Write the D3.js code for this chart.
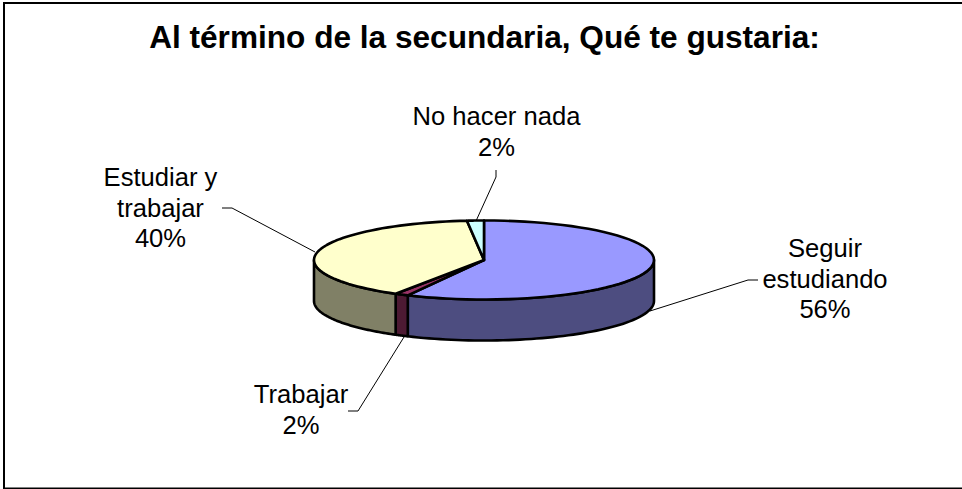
<!DOCTYPE html>
<html><head><meta charset="utf-8">
<script src="https://cdn.jsdelivr.net/npm/d3@7"></script>
<style>html,body{margin:0;padding:0;background:#fff;overflow:hidden}svg{display:block}text{font-family:"Liberation Sans",Arial,sans-serif;fill:#000}</style>
</head><body><svg id="c" width="962" height="489"></svg>
<script>
const title = "Al término de la secundaria, Qué te gustaria:";
const categories = ["Seguir estudiando", "Trabajar", "Estudiar y trabajar", "No hacer nada"];
const percentLabels = ["56%", "2%", "40%", "2%"];
const shares = [57.4, 1.3, 39.7, 1.6];
const topColors = ["#9999FF", "#993366", "#FFFFCC", "#CCFFFF"];
const sideColors = ["#4D4D80", "#4D1A33", "#808066", "#668080"];
const labelLines = [["Seguir", "estudiando"], ["Trabajar"], ["Estudiar y", "trabajar"], ["No hacer nada"]];
const labelAnchors = [[825, 257], [301, 403], [160.5, 186], [496.5, 125]];
const leaders = [
  [[650, 311], [748, 280], [758, 280]],
  [[404, 337], [358, 411], [348, 411]],
  [[315, 252], [232, 208], [222, 208]],
  [[476, 221], [496, 177], [496, 170]]
];
const svg = d3.select("#c");
svg.append("rect").attr("x", 4).attr("y", 3).attr("width", 1000).attr("height", 485.5)
  .attr("fill", "#fff").attr("stroke", "#000").attr("stroke-width", 2);
svg.append("text").attr("x", 484.5).attr("y", 48).attr("text-anchor", "middle")
  .attr("font-size", 31.6).attr("font-weight", "bold").text(title);

const cx = 484, cy = 260, rx = 170, ry = 39.5, depth = 41;
const pie = d3.pie().sort(null)(shares);
const px = a => cx + rx * Math.sin(a), py = a => cy - ry * Math.cos(a);
const line = d3.line();
const samples = (a0, a1) => d3.range(0, 61).map(i => a0 + (a1 - a0) * i / 60);
const g = svg.append("g").attr("stroke", "#000").attr("stroke-width", 2.6).attr("stroke-linejoin", "round");
pie.forEach((d, i) => {
  const a0 = Math.max(d.startAngle, Math.PI / 2), a1 = Math.min(d.endAngle, Math.PI * 1.5);
  if (a1 <= a0) return;
  const s = samples(a0, a1);
  const pts = s.map(a => [px(a), py(a)]).concat(s.slice().reverse().map(a => [px(a), py(a) + depth]));
  g.append("path").attr("d", line(pts) + "Z").attr("fill", sideColors[i]);
});
pie.forEach((d, i) => {
  const pts = [[cx, cy]].concat(samples(d.startAngle, d.endAngle).map(a => [px(a), py(a)]));
  g.append("path").attr("d", line(pts) + "Z").attr("fill", topColors[i]);
});
leaders.forEach(l => svg.append("path").attr("d", line(l)).attr("fill", "none").attr("stroke", "#000").attr("stroke-width", 1));
labelLines.forEach((ls, i) => {
  const t = svg.append("text").attr("text-anchor", "middle").attr("font-size", 25.6);
  ls.concat(percentLabels[i]).forEach((s, j) => t.append("tspan").attr("x", labelAnchors[i][0]).attr("y", labelAnchors[i][1] + j * 30.5).text(s));
});
</script></body></html>
